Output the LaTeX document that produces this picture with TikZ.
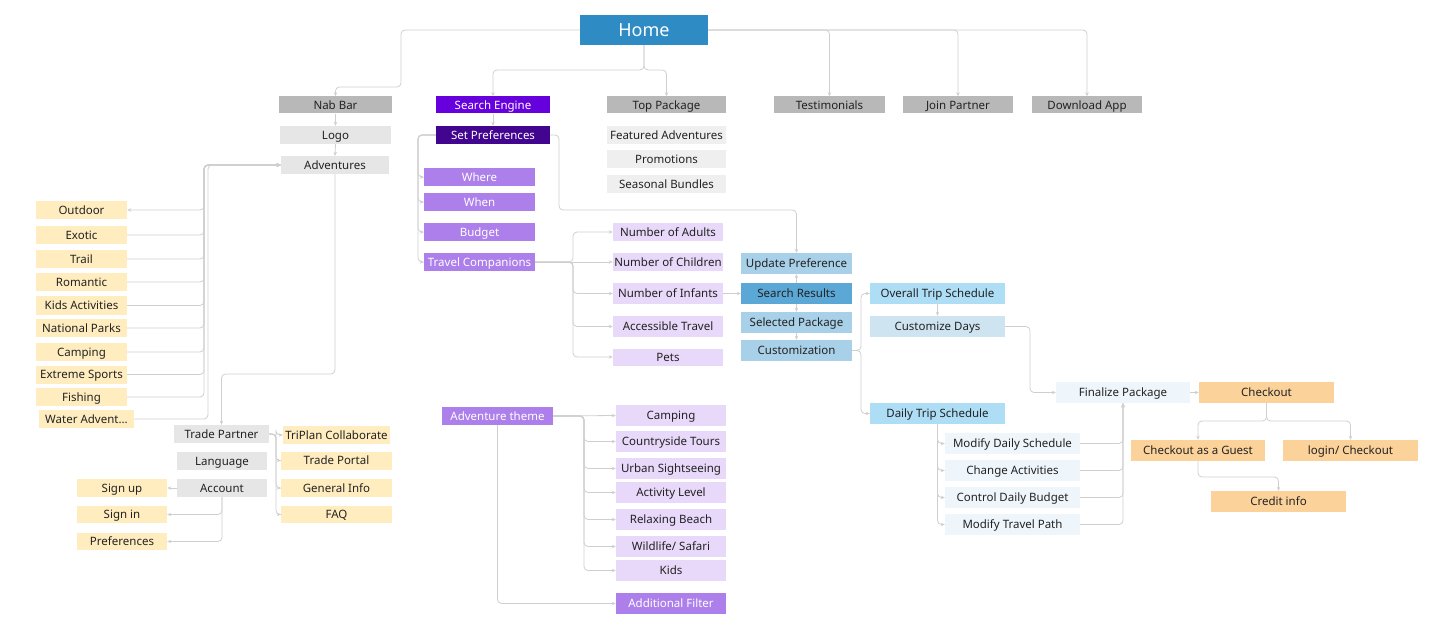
\documentclass[tikz,border=0pt]{standalone}
\usepackage{fontspec}
\setmainfont{Noto Sans}
\usetikzlibrary{arrows.meta}
\definecolor{homeblue}{HTML}{2E8BC4}
\definecolor{greyD}{HTML}{B8B8B8}
\definecolor{greyL}{HTML}{E6E6E6}
\definecolor{greyXL}{HTML}{EFEFEF}
\definecolor{purA}{HTML}{6600DD}
\definecolor{purB}{HTML}{42058F}
\definecolor{purM}{HTML}{AC7FEA}
\definecolor{lav}{HTML}{E8D8F9}
\definecolor{yel}{HTML}{FFEDC0}
\definecolor{blueL}{HTML}{A8D0E8}
\definecolor{blueM}{HTML}{5BA8D6}
\definecolor{sky}{HTML}{AEDDF6}
\definecolor{skyL}{HTML}{CFE4F1}
\definecolor{pale}{HTML}{EEF5FB}
\definecolor{orng}{HTML}{FCD29B}
\definecolor{txt}{HTML}{222222}
\definecolor{lnc}{HTML}{CFCFCF}
\begin{document}
\begin{tikzpicture}[x=1pt,y=-1pt,
  bx/.style={rectangle, inner sep=0pt, font=\fontsize{11.5}{13}\selectfont, text=txt, text height=8.3pt, text depth=0pt},
  wt/.style={text=white},
  wh/.style 2 args={minimum width=#1, minimum height=#2},
  ln/.style={draw=lnc, line width=0.8pt, rounded corners=4pt},
  ar/.style={ln, -{Stealth[length=4pt,width=3.5pt]}},
  ba/.style={ln, {Stealth[length=4pt,width=3.5pt]}-{Stealth[length=4pt,width=3.5pt]}}]
\useasboundingbox (0,0) rectangle (1440,644);

% top
\node[bx, fill=homeblue, text=white, wh={128}{30}, font=\fontsize{18}{20}\selectfont, text height=13pt] (home) at (644,30) {Home};
\node[bx, fill=greyD, wh={113}{17}] (nab) at (335.5,105) {Nab Bar};
\node[bx, fill=purA, wt, wh={114}{17}] (srch) at (493,105) {Search Engine};
\node[bx, fill=greyD, wh={119}{17}] (toppk) at (666.5,105) {Top Package};
\node[bx, fill=greyD, wh={111}{17}] (testi) at (829.5,105) {Testimonials};
\node[bx, fill=greyD, wh={110}{17}] (join) at (958,105) {Join Partner};
\node[bx, fill=greyD, wh={110}{17}] (dl) at (1087,105) {Download App};

\node[bx, fill=greyL, wh={111}{18}] (logo) at (335.5,135) {Logo};
\node[bx, fill=greyL, wh={108}{18}] (adv) at (335,165) {Adventures};
\node[bx, fill=purB, wt, wh={114}{18}] (setp) at (493,135) {Set Preferences};
\node[bx, fill=greyXL, wh={119}{18}] (feat) at (666.5,135) {Featured Adventures};
\node[bx, fill=greyXL, wh={119}{18}] (promo) at (666.5,159) {Promotions};
\node[bx, fill=greyXL, wh={119}{18}] (seas) at (666.5,184) {Seasonal Bundles};

% preferences
\node[bx, fill=purM, wt, wh={111}{18}] (where) at (479.5,177) {Where};
\node[bx, fill=purM, wt, wh={111}{18}] (when) at (479.5,202) {When};
\node[bx, fill=purM, wt, wh={111}{18}] (budget) at (479.5,232) {Budget};
\node[bx, fill=purM, wt, wh={111}{18}] (travel) at (479.5,262) {Travel Companions};

\node[bx, fill=lav, wh={110}{18}] (nadult) at (668,232) {Number of Adults};
\node[bx, fill=lav, wh={110}{18}] (nchild) at (668,262) {Number of Children};
\node[bx, fill=lav, wh={110}{21}] (ninf) at (668,293.5) {Number of Infants};
\node[bx, fill=lav, wh={110}{21}] (access) at (668,326.5) {Accessible Travel};
\node[bx, fill=lav, wh={110}{17}] (pets) at (668,357) {Pets};

\node[bx, fill=blueL, wh={111}{21}] (upd) at (796.5,263.5) {Update Preference};
\node[bx, fill=blueM, wh={111}{21}] (sres) at (796.5,293.5) {Search Results};
\node[bx, fill=blueL, wh={111}{21}] (selp) at (796.5,322.5) {Selected Package};
\node[bx, fill=blueL, wh={111}{21}] (cust) at (796.5,350.5) {Customization};

\node[bx, fill=sky, wh={135}{21}] (overall) at (937.5,293.5) {Overall Trip Schedule};
\node[bx, fill=skyL, wh={135}{21}] (custd) at (937.5,326.5) {Customize Days};
\node[bx, fill=sky, wh={135}{21}] (daily) at (937.5,413.5) {Daily Trip Schedule};
\node[bx, fill=pale, wh={134}{21}] (final) at (1123,392.5) {Finalize Package};
\node[bx, fill=pale, wh={135}{21}] (mds) at (1012.5,443.5) {Modify Daily Schedule};
\node[bx, fill=pale, wh={135}{21}] (chg) at (1012.5,470.5) {Change Activities};
\node[bx, fill=pale, wh={135}{21}] (ctrl) at (1012.5,497.5) {Control Daily Budget};
\node[bx, fill=pale, wh={135}{21}] (mtp) at (1012.5,524.5) {Modify Travel Path};

\node[bx, fill=orng, wh={135}{21}] (chk) at (1266.5,392.5) {Checkout};
\node[bx, fill=orng, wh={134}{21}] (guest) at (1198,450.5) {Checkout as a Guest};
\node[bx, fill=orng, wh={135}{21}] (login) at (1350.5,450.5) {login/ Checkout};
\node[bx, fill=orng, wh={135}{21}] (credit) at (1278.5,501.5) {Credit info};

% adventures list
\node[bx, fill=yel, wh={91}{18}] (outdoor) at (81.5,210) {Outdoor};
\node[bx, fill=yel, wh={91}{18}] (exotic) at (81.5,235) {Exotic};
\node[bx, fill=yel, wh={91}{18}] (trail) at (81.5,259) {Trail};
\node[bx, fill=yel, wh={91}{18}] (romantic) at (81.5,282) {Romantic};
\node[bx, fill=yel, wh={91}{18}] (kidsact) at (81.5,305.5) {Kids Activities};
\node[bx, fill=yel, wh={91}{18}] (natpark) at (81.5,328) {National Parks};
\node[bx, fill=yel, wh={91}{18}] (campy) at (81.5,352) {Camping};
\node[bx, fill=yel, wh={91}{18}] (extreme) at (81.5,374.5) {Extreme Sports};
\node[bx, fill=yel, wh={91}{18}] (fishing) at (81.5,397) {Fishing};
\node[bx, fill=yel, wh={95}{18}] (water) at (86.5,419) {Water Advent...};

\node[bx, fill=greyL, wh={95}{18}] (tp) at (221.5,434) {Trade Partner};
\node[bx, fill=greyL, wh={90}{18}] (lang) at (222,461) {Language};
\node[bx, fill=greyL, wh={90}{18}] (acct) at (222,488) {Account};
\node[bx, fill=yel, wh={90}{18}] (signup) at (122,488) {Sign up};
\node[bx, fill=yel, wh={90}{17}] (signin) at (122,514.5) {Sign in};
\node[bx, fill=yel, wh={90}{17}] (prefs) at (122,541.5) {Preferences};
\node[bx, fill=yel, wh={107}{18}] (tric) at (336.5,435) {TriPlan Collaborate};
\node[bx, fill=yel, wh={111}{18}] (tport) at (336.5,460.5) {Trade Portal};
\node[bx, fill=yel, wh={111}{18}] (ginfo) at (336.5,488) {General Info};
\node[bx, fill=yel, wh={111}{17}] (faq) at (336.5,514.5) {FAQ};

% adventure theme
\node[bx, fill=purM, wt, wh={111}{18}] (advth) at (497.5,416) {Adventure theme};
\node[bx, fill=lav, wh={110}{21}] (acamp) at (671,415.5) {Camping};
\node[bx, fill=lav, wh={110}{21}] (country) at (671,441.5) {Countryside Tours};
\node[bx, fill=lav, wh={110}{21}] (urban) at (671,468.5) {Urban Sightseeing};
\node[bx, fill=lav, wh={110}{21}] (activity) at (671,492.5) {Activity Level};
\node[bx, fill=lav, wh={110}{21}] (relax) at (671,519.5) {Relaxing Beach};
\node[bx, fill=lav, wh={110}{21}] (wild) at (671,546.5) {Wildlife/ Safari};
\node[bx, fill=lav, wh={110}{21}] (kids) at (671,570.5) {Kids};
\node[bx, fill=purM, wt, wh={110}{21}] (addf) at (671,603.5) {Additional Filter};

% connectors: home
\draw[ar] (home.west) -| (401,87) -| (nab.north);
\draw[ar] (home.south) -- (644,70) -| (srch.north);
\draw[ar] (home.south) -- (644,70) -| (toppk.north);
\draw[ar] (home.east) -| (testi.north);
\draw[ar] (home.east) -| (join.north);
\draw[ar] (home.east) -| (dl.north);

% nab bar
\draw[ar] (nab.south) -- (logo.north);
\draw[ar] (logo.south) -- (adv.north);
\draw[ar] (adv.south) -- (335,374) -| (tp.north);
\draw[ba] (outdoor.east) -| (204,165) -- (adv.west);
\foreach \n in {exotic,trail,romantic,kidsact,natpark,campy,extreme,fishing}
  \draw[ar] (\n.east) -| (204,165) -- (adv.west);
\draw[ar] (water.east) -| (208,165) -- (adv.west);

% account, trade partner
\draw[ar] (acct.west) -- (signup.east);
\draw[ar] (acct.south) |- (signin.east);
\draw[ar] (acct.south) |- (prefs.east);
\foreach \n in {tric,tport,ginfo,faq}
  \draw[ar] (tp.east) -- (276,434) |- (\n.west);

% search engine
\draw[ar] (srch.south) -- (setp.north);
\foreach \n in {where,when,budget,travel}
  \draw[ar] (setp.west) -- (418,135) |- (\n.west);
\draw[ar] (setp.east) -| (559,210) -| (upd.north);
\draw[ar] (travel.east) -- (nchild.west);
\foreach \n in {nadult,ninf,access,pets}
  \draw[ar] (travel.east) -- (573,262) |- (\n.west);
\draw[ar] (ninf.east) -- (sres.west);
\draw[ar] (sres.north) -- (upd.south);
\draw[ar] (sres.south) -- (selp.north);
\draw[ar] (selp.south) -- (cust.north);

% customization
\draw[ar] (cust.east) -- (861,350.5) |- (overall.west);
\draw[ar] (cust.east) -- (861,350.5) |- (daily.west);
\draw[ar] (overall.south) -- (custd.north);
\draw[ar] (custd.east) -| (1030,392.5) -- (final.west);
\foreach \n in {mds,chg,ctrl,mtp} {
  \draw[ar] (daily.south) |- (\n.west);
  \draw[ar] (\n.east) -| (final.south);
}
\draw[ar] (final.east) -- (chk.west);
\draw[ar] (chk.south) -- (1266.5,421) -| (guest.north);
\draw[ar] (chk.south) -- (1266.5,421) -| (login.north);
\draw[ar] (guest.south) -- (1198,477) -| (credit.north);

% adventure theme
\draw[ar] (advth.east) -- (acamp.west);
\foreach \n in {country,urban,activity,relax,wild,kids}
  \draw[ar] (advth.east) -- (584,416) |- (\n.west);
\draw[ar] (advth.south) |- (addf.west);
\end{tikzpicture}
\end{document}
